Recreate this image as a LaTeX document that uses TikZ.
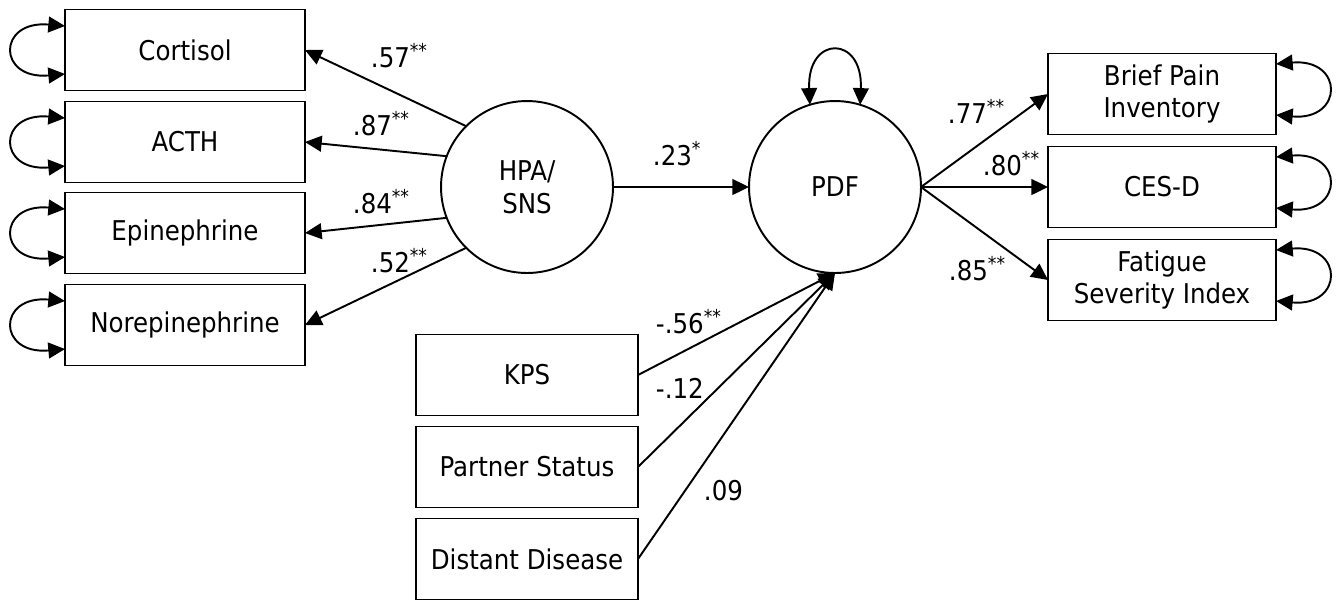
\documentclass[tikz,border=0pt]{standalone}
\usepackage{fontspec}
\setmainfont{DejaVu Sans Condensed}
\usepackage{tikz}
\usetikzlibrary{arrows.meta}
\usetikzlibrary{calc,positioning}

\begin{document}
\begin{tikzpicture}[x=0.02cm,y=-0.02cm,line width=1.1pt,
	font=\fontsize{15.5}{18.7}\selectfont,
	box/.style={draw,rectangle,inner sep=0pt,outer sep=0pt,minimum width=#1,minimum height=1.62cm,align=center},
	latent/.style={draw,circle,inner sep=0pt,outer sep=0pt,minimum size=3.44cm,align=center},
	path/.style={-{Triangle[length=9.5pt,width=9pt]}},
	cov/.style={{Triangle[length=9.5pt,width=9pt]}-{Triangle[length=9.5pt,width=9pt]}},
	coef/.style={anchor=base west,inner sep=0pt}]
	\useasboundingbox (0,0) rectangle (1341,600);
	\node[box=4.8cm] (0) at (185, 50) {Cortisol};
	\node[box=4.8cm] (1) at (185, 142) {ACTH};
	\node[box=4.8cm] (2) at (185, 233) {Epinephrine};
	\node[box=4.8cm] (3) at (185, 325) {Norepinephrine};
	\node[latent] (4) at (527, 187) {HPA/\\SNS};
	\node[latent] (5) at (835, 187) {PDF};
	\node[box=4.56cm] (6) at (1162, 94) {Brief Pain\\Inventory};
	\node[box=4.56cm] (7) at (1162, 187) {CES-D};
	\node[box=4.56cm] (8) at (1162, 280) {Fatigue\\Severity Index};
	\node[box=4.44cm] (9) at (527, 375) {KPS};
	\node[box=4.44cm] (10) at (527, 467) {Partner Status};
	\node[box=4.44cm] (11) at (527, 559) {Distant Disease};
	% coefficients
	\node[coef] (12) at (370, 67) {.57\textsuperscript{**}};
	\node[coef] (13) at (352, 135) {.87\textsuperscript{**}};
	\node[coef] (14) at (352, 213) {.84\textsuperscript{**}};
	\node[coef] (15) at (370, 272) {.52\textsuperscript{**}};
	\node[coef] (16) at (652, 165) {.23\textsuperscript{*}};
	\node[coef] (17) at (947, 123) {.77\textsuperscript{**}};
	\node[coef] (18) at (982, 175) {.80\textsuperscript{**}};
	\node[coef] (19) at (948, 280) {.85\textsuperscript{**}};
	\node[coef] (20) at (655, 333) {-.56\textsuperscript{**}};
	\node[coef] (21) at (655, 398) {-.12};
	\node[coef] (22) at (703, 500) {.09};
	% paths
	\draw [path] (4.135) to (0.east);
	\draw [path] (4.159) to (1.east);
	\draw [path] (4.201) to (2.east);
	\draw [path] (4.225) to (3.east);
	\draw [path] (4) to (5);
	\draw [path] (5.east) to (6.west);
	\draw [path] (5.east) to (7.west);
	\draw [path] (5.east) to (8.west);
	\draw [path] (9.east) to (5.south);
	\draw [path] (10.east) to (5.south);
	\draw [path] (11.east) to (5.south);
	% variances
	\draw [cov] ($(0.west)+(0,-24)$) .. controls +(-68,-6) and +(-68,6) .. ($(0.west)+(0,24)$);
	\draw [cov] ($(1.west)+(0,-24)$) .. controls +(-68,-6) and +(-68,6) .. ($(1.west)+(0,24)$);
	\draw [cov] ($(2.west)+(0,-24)$) .. controls +(-68,-6) and +(-68,6) .. ($(2.west)+(0,24)$);
	\draw [cov] ($(3.west)+(0,-24)$) .. controls +(-68,-6) and +(-68,6) .. ($(3.west)+(0,24)$);
	\draw [cov] ($(6.east)+(0,-30)$) .. controls +(68,-6) and +(68,6) .. ($(6.east)+(0,21)$);
	\draw [cov] ($(7.east)+(0,-30)$) .. controls +(68,-6) and +(68,6) .. ($(7.east)+(0,21)$);
	\draw [cov] ($(8.east)+(0,-30)$) .. controls +(68,-6) and +(68,6) .. ($(8.east)+(0,21)$);
	\draw [cov] (5.107) .. controls +(-3,-70) and +(3,-70) .. (5.73);
\end{tikzpicture}
\end{document}
